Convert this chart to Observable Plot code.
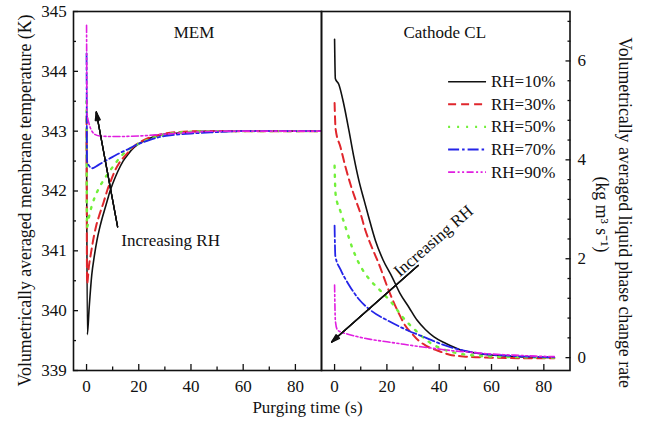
<!DOCTYPE html>
<html><head><meta charset="utf-8">
<script src="https://cdn.jsdelivr.net/npm/d3@7"></script>
<script src="https://cdn.jsdelivr.net/npm/@observablehq/plot@0.6"></script>
<style>
body{margin:0;background:#fff;}
#chart{position:relative;width:650px;height:422px;background:#fff;overflow:hidden;}
#chart svg{position:absolute;top:0;}
#chart svg text{font-family:'Liberation Serif','Times New Roman',Times,serif;}
</style></head><body><div id="chart"></div>
<script>
// ---------- data ----------
const seriesNames = ["RH=10%", "RH=30%", "RH=50%", "RH=70%", "RH=90%"];

// MEM: volumetrically averaged membrane temperature (K) vs purging time (s)
const mem10_t = [0, 0.3, 1, 2, 3, 4, 5, 6, 7, 8, 9, 10, 12, 14, 16, 18, 20, 23, 26, 30, 35, 40, 50, 90];
const mem10_v = [343.0, 339.6, 340.05, 340.6, 340.92, 341.18, 341.38, 341.55, 341.7, 341.85, 342.0, 342.12, 342.33, 342.5, 342.62, 342.72, 342.79, 342.86, 342.91, 342.95, 342.97, 342.99, 343.0, 343.0];
const mem30_t = [0, 0.2, 0.9, 1.8, 2.8, 3.7, 4.7, 6.6, 8, 9.2, 11, 12.4, 15, 18, 21, 24.5, 30, 37, 45, 90];
const mem30_v = [343.25, 340.45, 340.74, 340.99, 341.24, 341.42, 341.57, 341.82, 342.02, 342.16, 342.35, 342.46, 342.6, 342.74, 342.83, 342.9, 342.96, 342.99, 343.0, 343.0];
const mem50_t = [0, 0.2, 1, 2, 3, 4, 5, 6.5, 8, 10, 13, 16, 20, 25, 31, 40, 50, 90];
const mem50_v = [343.5, 341.4, 341.58, 341.75, 341.88, 341.98, 342.07, 342.18, 342.28, 342.4, 342.57, 342.69, 342.79, 342.88, 342.95, 342.99, 343.0, 343.0];
const mem70_t = [0, 0.2, 1, 2.2, 4, 6.6, 10, 13, 16, 19.4, 22, 26, 32, 40, 48, 60, 90];
const mem70_v = [344.3, 342.5, 342.42, 342.38, 342.42, 342.49, 342.57, 342.64, 342.7, 342.78, 342.82, 342.88, 342.93, 342.96, 342.98, 343.0, 343.0];
const mem90_t = [0, 0.2, 1, 2.2, 3, 5, 10, 20, 30, 40, 50, 90];
const mem90_v = [344.77, 343.3, 343.12, 342.99, 342.95, 342.92, 342.91, 342.92, 342.95, 342.98, 343.0, 343.0];

// Cathode CL: volumetrically averaged liquid phase change rate (kg m-3 s-1)
const cl10_t = [0, 0.3, 1.6, 3.5, 5.5, 7.4, 9.3, 11.2, 13, 15.6, 18.5, 22, 25, 28.4, 31.5, 34.7, 38, 42.4, 48, 55.7, 66, 75, 84];
const cl10_v = [6.44, 5.64, 5.53, 5.13, 4.59, 4.05, 3.58, 3.2, 2.85, 2.37, 1.98, 1.63, 1.3, 1.02, 0.76, 0.57, 0.42, 0.29, 0.16, 0.08, 0.03, 0.01, 0.0];
const cl30_t = [0, 0.4, 2.3, 4.2, 6.1, 8, 10, 11.8, 14.5, 16.9, 20.7, 24.6, 27, 29.7, 32, 34.7, 40.5, 44, 50.6, 60, 70, 84];
const cl30_v = [5.15, 4.62, 4.25, 3.85, 3.5, 3.2, 2.9, 2.57, 2.2, 1.9, 1.36, 0.89, 0.65, 0.48, 0.35, 0.25, 0.12, 0.06, 0.02, 0.0, -0.01, -0.01];
const cl50_t = [0, 0.4, 2.3, 4.2, 6.7, 9.9, 13.1, 17.6, 22, 26, 31, 36, 41, 46, 52, 60, 70, 84];
const cl50_v = [3.88, 3.3, 2.95, 2.64, 2.23, 1.85, 1.6, 1.35, 1.1, 0.82, 0.55, 0.32, 0.18, 0.1, 0.05, 0.02, 0.01, 0.0];
const cl70_t = [0, 0.3, 2.3, 5.5, 9.3, 14, 20.7, 28, 35, 41, 48, 55, 66, 84];
const cl70_v = [2.67, 2.05, 1.78, 1.47, 1.18, 0.95, 0.74, 0.55, 0.4, 0.27, 0.16, 0.09, 0.04, 0.01];
const cl90_t = [0, 0.3, 1, 2.3, 4.8, 9, 13.7, 20, 26.5, 33, 39, 45, 52, 58, 64.6, 71, 77, 84];
const cl90_v = [1.47, 0.75, 0.57, 0.52, 0.48, 0.42, 0.37, 0.32, 0.27, 0.22, 0.18, 0.14, 0.11, 0.08, 0.06, 0.045, 0.03, 0.02];

// ticks
const xMajor = [0, 20, 40, 60, 80];
const xMinor = [10, 30, 50, 70];
const memMajor = [339, 340, 341, 342, 343, 344, 345];
const memMinor = [339.5, 340.5, 341.5, 342.5, 343.5, 344.5];
const clMajor = [0, 2, 4, 6];
const clMinor = [0.4, 0.8, 1.2, 1.6, 2.4, 2.8, 3.2, 3.6, 4.4, 4.8, 5.2, 5.6, 6.4, 6.8];

// texts
const panelTitles = ["MEM", "Cathode CL"];
const xLabel = "Purging time (s)";
const yLabelLeft = "Volumetrically averaged membrane temperature (K)";
const yLabelRight = "Volumetrically averaged liquid phase change rate";
const yUnitRight = "(kg m\u00B3 s\u207B\u00B9)";
const annotation = "Increasing RH";

// ---------- styles & layout ----------
const colors = ["#111111", "#e0262c", "#72f03a", "#2424e8", "#e01ee0"];
const dashes = [undefined, "8,5", "2,7", "11,3,2.5,3", "7,2.5,2,2.5,2,2.5"];
const widths = [1.6, 2, 2.4, 1.8, 1.6];
const font = "'Liberation Serif','Times New Roman',Times,serif";
const baseStyle = {fontFamily: font, fontSize: "17px", color: "#111", background: "transparent", overflow: "visible"};
const xDomain = [-5, 90];
const fmt = d => String(d);
const blank = () => "";
const axisStyle = {label: null, strokeWidth: 1.3, fontFamily: font, fontSize: 17};

function rows(t, v) { return t.map((x, i) => ({t: x, v: v[i]})); }

const memSeries = [[mem10_t, mem10_v], [mem30_t, mem30_v], [mem50_t, mem50_v], [mem70_t, mem70_v], [mem90_t, mem90_v]];
const clSeries = [[cl10_t, cl10_v], [cl30_t, cl30_v], [cl50_t, cl50_v], [cl70_t, cl70_v], [cl90_t, cl90_v]];

function seriesMarks(list) {
  return list.map(([t, v], i) => Plot.line(rows(t, v), {
    x: "t", y: "v", stroke: colors[i], strokeWidth: widths[i],
    strokeDasharray: dashes[i], curve: "monotone-x", clip: true
  }));
}

function arrowMarks(a) {
  return [34, 22, 12, 4].map(ang => Plot.arrow([a], {
    x1: d => d[0], y1: d => d[1], x2: d => d[2], y2: d => d[3],
    stroke: "#111", strokeWidth: 1.3, headLength: 10, headAngle: ang
  }));
}

// annotation anchors (data coordinates)
const memArrow = [11.9, 341.4, 3.72, 343.32];
const memNote = [13.3, 341.18];
const clArrow = [31.95, 1.865, -1.15, 0.315];
const clNote = [37.8, 2.36];
const legendX = [43.4, 57.9, 59.8];
const legendY0 = 5.58, legendStep = 0.457;

const chart = document.getElementById("chart");

// ---------- left panel (MEM) ----------
const left = Plot.plot({
  width: 321, height: 422,
  marginLeft: 73, marginRight: 0, marginTop: 11, marginBottom: 52,
  x: {domain: xDomain},
  y: {domain: [339, 345]},
  style: baseStyle,
  marks: [
    ...seriesMarks(memSeries),
    Plot.axisX({ticks: xMajor, tickSize: -6, tickPadding: 15.5, tickFormat: fmt, ...axisStyle}),
    Plot.axisX({ticks: xMinor, tickSize: -3.5, tickFormat: blank, ...axisStyle}),
    Plot.axisY({ticks: memMajor, tickSize: -5, tickPadding: 11.7, tickFormat: fmt, ...axisStyle}),
    Plot.axisY({ticks: memMinor, tickSize: -3, tickFormat: blank, ...axisStyle}),
    Plot.frame({stroke: "#111", strokeWidth: 1.6}),
    Plot.text([panelTitles[0]], {frameAnchor: "top", lineAnchor: "middle", dx: -3.5, dy: 21, text: d => d, fontFamily: font}),
    ...arrowMarks(memArrow),
    Plot.text([annotation], {x: () => memNote[0], y: () => memNote[1], text: d => d, textAnchor: "start", fontFamily: font}),
    Plot.text([yLabelLeft], {frameAnchor: "left", textAnchor: "middle", lineAnchor: "middle", rotate: -90, dx: -48, dy: 9.5, text: d => d, fontSize: 17.8, fontFamily: font}),
    Plot.text([xLabel], {frameAnchor: "bottom", textAnchor: "middle", lineAnchor: "middle", dx: 110, dy: 37, text: d => d, fontSize: 17, fontFamily: font})
  ]
});
left.style.left = "0px";
chart.appendChild(left);

// ---------- right panel (Cathode CL) ----------
const legendMarks = [];
seriesNames.forEach((name, i) => {
  const y = legendY0 - i * legendStep;
  legendMarks.push(Plot.link([name], {
    x1: () => legendX[0], x2: () => legendX[1], y1: () => y, y2: () => y,
    stroke: colors[i], strokeWidth: widths[i], strokeDasharray: dashes[i]
  }));
  legendMarks.push(Plot.text([name], {x: () => legendX[2], y: () => y, text: d => d, textAnchor: "start", fontFamily: font}));
});

const right = Plot.plot({
  width: 330, height: 422,
  marginLeft: 1, marginRight: 80.5, marginTop: 11, marginBottom: 52,
  x: {domain: xDomain},
  y: {domain: [-0.26, 7.0]},
  style: baseStyle,
  marks: [
    ...seriesMarks(clSeries),
    Plot.axisX({ticks: xMajor, tickSize: -6, tickPadding: 15.5, tickFormat: fmt, ...axisStyle}),
    Plot.axisX({ticks: xMinor, tickSize: -3.5, tickFormat: blank, ...axisStyle}),
    Plot.axisY({anchor: "right", ticks: clMajor, tickSize: -5, tickPadding: 12.4, tickFormat: fmt, ...axisStyle}),
    Plot.axisY({anchor: "right", ticks: clMinor, tickSize: -3, tickFormat: blank, ...axisStyle}),
    Plot.frame({stroke: "#111", strokeWidth: 1.6}),
    Plot.text([panelTitles[1]], {frameAnchor: "top", lineAnchor: "middle", dx: -1, dy: 21, text: d => d, fontFamily: font}),
    ...legendMarks,
    ...arrowMarks(clArrow),
    Plot.text([annotation], {x: () => clNote[0], y: () => clNote[1], text: d => d, rotate: -41, fontFamily: font}),
    Plot.text([yLabelRight], {frameAnchor: "right", textAnchor: "middle", lineAnchor: "middle", rotate: 90, dx: 54.5, dy: 21.5, text: d => d, fontSize: 17.8, fontFamily: font}),
    Plot.text([yUnitRight], {frameAnchor: "right", textAnchor: "middle", lineAnchor: "middle", rotate: 90, dx: 31.5, dy: 23.5, text: d => d, fontSize: 17.8, fontFamily: font})
  ]
});
right.style.left = "320px";
chart.appendChild(right);
</script></body></html>
